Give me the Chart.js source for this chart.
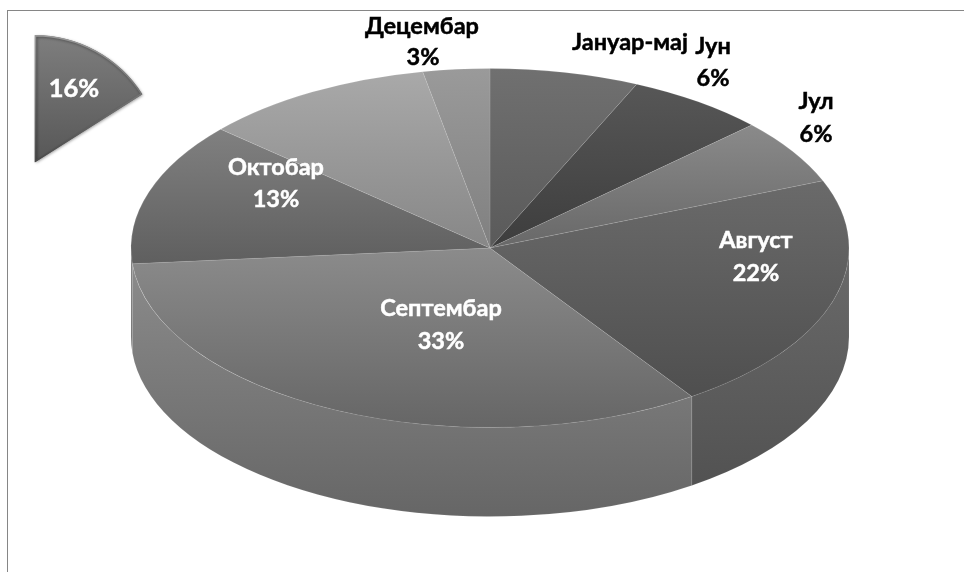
<!DOCTYPE html>
<html>
<head>
<meta charset="utf-8">
<style>
  html, body { margin: 0; padding: 0; background: #fff; }
  #frame { position: absolute; left: 7px; top: 10px; right: 0; bottom: 0; border-left: 1px solid #868686; border-top: 1px solid #868686; }
  canvas { position: absolute; left: 0; top: 0; }
  #wrap, #wedgeWrap { position: absolute; left: 0; top: 0; width: 964px; height: 572px; }
</style>
<script src="https://cdn.jsdelivr.net/npm/chart.js@4"></script>
</head>
<body>
<div id="frame"></div>
<div id="wrap"><canvas id="pie"></canvas></div>
<div id="wedgeWrap"><canvas id="wedge"></canvas></div>
<script>
const categories = ['Јануар-мај', 'Јун', 'Јул', 'Август', 'Септембар', 'Октобар', '', 'Децембар'];
const values = [6.7, 6.3, 5.9, 21.6, 33.1, 12.9, 10.5, 3.0];
const shownPercents = ['', '6%', '6%', '22%', '33%', '13%', '', '3%'];
const wedgeValue = 16;

const topShades = ['#707070', '#575757', '#8a8a8a', '#6a6a6a', '#8b8b8b', '#808080', '#a9a9a9', '#9a9a9a'];
const bottomShades = ['#5a5a5a', '#3d3d3d', '#686868', '#4f4f4f', '#666666', '#5f5f5f', '#878787', '#808080'];

// x, y of the name line and of the percent line, per category
const labelSpots = [
  [630, 42, 0, 0], [713, 46, 713, 78], [816, 101, 816, 134], [756, 240, 756, 273],
  [441, 308, 441, 341], [276, 167, 276, 199], [0, 0, 0, 0], [422, 26, 423, 57]
];
const labelColors = ['#000', '#000', '#000', '#fff', '#fff', '#fff', '#000', '#000'];

const CX = 490, CY = 248, RX = 359, SQUASH = 0.5, DEPTH = 89;
const FONT = 'bold 23.5px Lato, "Open Sans", sans-serif';

function sliceRange(arc) {
  // top and bottom of the slice, in unsquashed pie coordinates
  let lo = Math.min(Math.sin(arc.startAngle), Math.sin(arc.endAngle));
  let hi = Math.max(Math.sin(arc.startAngle), Math.sin(arc.endAngle));
  const has = a => [-2, 0, 2].some(k => arc.startAngle <= a + k * Math.PI && a + k * Math.PI <= arc.endAngle);
  if (has(-Math.PI / 2)) lo = -1;
  if (has(Math.PI / 2)) hi = 1;
  lo = Math.min(lo, 0);
  hi = Math.max(hi, 0);
  return [lo * RX, hi * RX];
}

function drawWall(ctx, arc, i) {
  const from = Math.max(arc.startAngle, 0);
  const to = Math.min(arc.endAngle, Math.PI);
  if (to <= from) return;
  const ry = RX * SQUASH;
  const top = CY + Math.min(Math.sin(from), Math.sin(to)) * ry;
  const grad = ctx.createLinearGradient(0, top, 0, CY + ry + DEPTH);
  grad.addColorStop(0, topShades[i]);
  grad.addColorStop(1, bottomShades[i]);
  ctx.beginPath();
  ctx.ellipse(CX, CY, RX, ry, 0, from, to);
  ctx.ellipse(CX, CY + DEPTH, RX, ry, 0, to, from, true);
  ctx.closePath();
  ctx.fillStyle = grad;
  ctx.fill();
  ctx.strokeStyle = 'rgba(255,255,255,0.12)';
  ctx.lineWidth = 0.6;
  ctx.stroke();
}

function drawLabel(ctx, text, x, y) {
  ctx.fillText(text, x, y);
  ctx.strokeText(text, x, y);
}

const pie3d = {
  id: 'pie3d',
  beforeDatasetDraw(chart) {
    const ctx = chart.ctx;
    const arcs = chart.getDatasetMeta(0).data;
    arcs.forEach((arc, i) => drawWall(ctx, arc, i));

    ctx.save();
    ctx.translate(CX, CY);
    ctx.scale(1, SQUASH);
    ctx.translate(-arcs[0].x, -arcs[0].y);
    arcs.forEach((arc, i) => {
      const [lo, hi] = sliceRange(arc);
      const grad = ctx.createLinearGradient(0, arc.y + lo, 0, arc.y + hi);
      grad.addColorStop(0, topShades[i]);
      grad.addColorStop(1, bottomShades[i]);
      arc.options = Object.assign({}, arc.options, { backgroundColor: grad });
      arc.draw(ctx);
    });
    ctx.restore();
    return false;
  },
  afterDraw(chart) {
    const ctx = chart.ctx;
    ctx.save();
    ctx.font = FONT;
    ctx.textAlign = 'center';
    ctx.textBaseline = 'middle';
    ctx.lineWidth = 0.5;
    categories.forEach((name, i) => {
      const s = labelSpots[i];
      ctx.fillStyle = labelColors[i];
      ctx.strokeStyle = labelColors[i];
      if (name) drawLabel(ctx, name, s[0], s[1]);
      if (shownPercents[i]) drawLabel(ctx, shownPercents[i], s[2], s[3]);
    });
    ctx.restore();
  }
};

new Chart(document.getElementById('pie'), {
  type: 'pie',
  data: {
    labels: categories,
    datasets: [{
      data: values,
      radius: RX,
      backgroundColor: topShades,
      borderColor: 'rgba(255,255,255,0.2)',
      borderWidth: 0.7,
      borderAlign: 'center'
    }]
  },
  options: {
    responsive: true,
    maintainAspectRatio: false,
    animation: false,
    events: [],
    plugins: { legend: { display: false }, tooltip: { enabled: false } }
  },
  plugins: [pie3d]
});

// the slice pulled out to the top left corner
const wedgeApex = { x: 35, y: 162 };
const wedgeDraw = {
  id: 'wedgeDraw',
  beforeDatasetDraw(chart) {
    const ctx = chart.ctx;
    const arc = chart.getDatasetMeta(0).data[0];
    ctx.save();
    ctx.translate(wedgeApex.x - arc.x, wedgeApex.y - arc.y);
    const grad = ctx.createLinearGradient(0, arc.y - 127, 0, arc.y);
    grad.addColorStop(0, '#7e7e7e');
    grad.addColorStop(1, '#575757');
    const edge = ctx.createLinearGradient(0, arc.y - 127, 0, arc.y);
    edge.addColorStop(0, '#999999');
    edge.addColorStop(0.45, '#767676');
    edge.addColorStop(1, '#4a4a4a');
    arc.options = Object.assign({}, arc.options, { backgroundColor: grad, borderColor: edge, borderWidth: 1.2 });
    ctx.shadowColor = 'rgba(0,0,0,0.4)';
    ctx.shadowBlur = 3;
    ctx.shadowOffsetX = 1;
    ctx.shadowOffsetY = 1;
    arc.draw(ctx);
    ctx.restore();
    return false;
  },
  afterDraw(chart) {
    const ctx = chart.ctx;
    ctx.save();
    ctx.font = 'bold 25.5px Lato, "Open Sans", sans-serif';
    ctx.textAlign = 'center';
    ctx.textBaseline = 'middle';
    ctx.fillStyle = '#fff';
    ctx.strokeStyle = '#fff';
    ctx.lineWidth = 0.5;
    drawLabel(ctx, wedgeValue + '%', 74, 89);
    ctx.restore();
  }
};

new Chart(document.getElementById('wedge'), {
  type: 'pie',
  data: {
    labels: [''],
    datasets: [{ data: [wedgeValue], radius: 127, borderAlign: 'inner' }]
  },
  options: {
    responsive: true,
    maintainAspectRatio: false,
    animation: false,
    events: [],
    circumference: 360 * wedgeValue / 100,
    plugins: { legend: { display: false }, tooltip: { enabled: false } }
  },
  plugins: [wedgeDraw]
});
</script>
</body>
</html>
